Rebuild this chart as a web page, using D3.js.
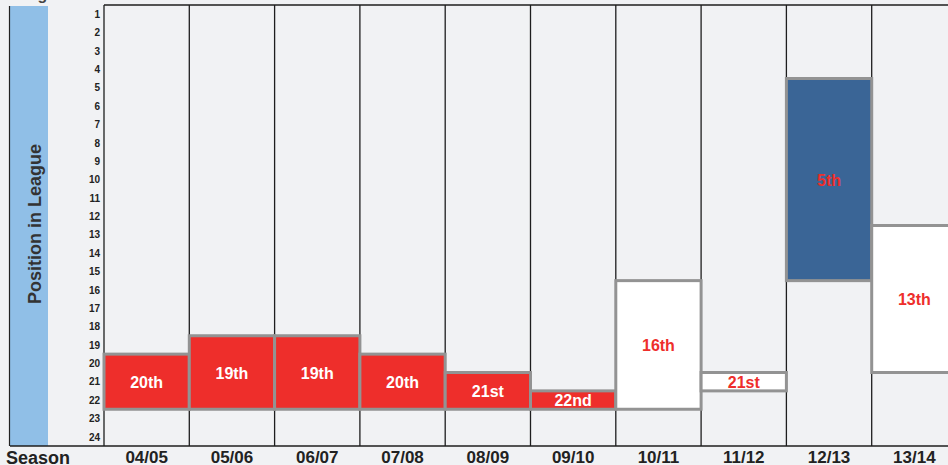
<!DOCTYPE html>
<html>
  <head>
    <meta charset="UTF-8" />
    <style>
      html, body { margin: 0; padding: 0; background: #f1f2f4; overflow: hidden; }
      svg { display: block; font-family: Arial, "Liberation Sans", sans-serif; }
    </style>
  </head>
  <body>
    <svg></svg>
    <script src="https://d3js.org/d3.v7.min.js"></script>
    <script>
      // data
      const seasons = ["04/05", "05/06", "06/07", "07/08", "08/09", "09/10", "10/11", "11/12", "12/13", "13/14"];
      const positions = [20, 19, 19, 20, 21, 22, 16, 21, 5, 13];
      const barTops = [19.5, 18.5, 18.5, 19.5, 20.5, 21.5, 15.5, 20.5, 4.5, 12.5];
      const barBottoms = [22.5, 22.5, 22.5, 22.5, 22.5, 22.5, 22.5, 21.5, 15.5, 20.5];
      const outcome = ["down", "down", "down", "down", "down", "down", "mid", "mid", "top", "mid"];
      const leaguePlaces = d3.range(1, 25);

      const width = 948, height = 465;
      const svg = d3.select("svg").attr("width", width).attr("height", height);

      const fillColor = d3.scaleOrdinal().domain(["down", "mid", "top"]).range(["#ee2e2b", "#ffffff", "#3a6596"]);
      const textColor = d3.scaleOrdinal().domain(["down", "mid", "top"]).range(["#ffffff", "#ee2e2b", "#ee2e2b"]);

      const x = d3.scaleBand().domain(seasons).range([104, 104 + 85.3 * seasons.length]).padding(0);
      const y = d3.scaleLinear().domain([0.5, 24.5]).range([5, 446]);

      const ordinal = n => {
        const s = ["th", "st", "nd", "rd"], v = n % 100;
        return n + (s[(v - 20) % 10] || s[v] || s[0]);
      };

      // title (cut off at the top in the original)
      svg.append("text").attr("x", 10).attr("y", 0)
        .attr("font-size", 16).attr("font-weight", "bold").attr("fill", "#444")
        .text("League Position Over The Last 10 Seasons");

      // left side panel
      svg.append("rect").attr("x", 10).attr("y", 6).attr("width", 38).attr("height", 440).attr("fill", "#90bfe7");
      svg.append("line").attr("x1", 9.5).attr("x2", 9.5).attr("y1", 6).attr("y2", 446)
        .attr("stroke", "#222").attr("stroke-width", 1.2);
      svg.append("text")
        .attr("transform", "translate(41,224) rotate(-90)")
        .attr("text-anchor", "middle").attr("font-size", 18).attr("font-weight", "bold").attr("fill", "#333")
        .text("Position in League");

      // grid columns
      const grid = svg.append("g");
      grid.selectAll("line.col")
        .data(seasons.concat(["end"]))
        .join("line")
        .attr("class", "col")
        .attr("x1", (d, i) => x.range()[0] + i * x.bandwidth())
        .attr("x2", (d, i) => x.range()[0] + i * x.bandwidth())
        .attr("y1", y(0.5)).attr("y2", y(24.5))
        .attr("stroke", "#1e1e1e").attr("stroke-width", 1.3);
      grid.append("line").attr("x1", x.range()[0]).attr("x2", width).attr("y1", y(0.5)).attr("y2", y(0.5))
        .attr("stroke", "#1e1e1e").attr("stroke-width", 1.3);
      grid.append("line").attr("x1", 10).attr("x2", width).attr("y1", y(24.5)).attr("y2", y(24.5))
        .attr("stroke", "#1e1e1e").attr("stroke-width", 1.3);

      // y axis labels
      const yAxis = d3.axisLeft(y).tickValues(leaguePlaces).tickSize(0).tickPadding(4);
      const yg = svg.append("g").attr("transform", "translate(104,0)").call(yAxis);
      yg.select(".domain").remove();
      yg.selectAll("text").attr("font-size", 10).attr("font-weight", "bold").attr("fill", "#222")
        .attr("font-family", "Arial, 'Liberation Sans', sans-serif");

      // bars
      const bars = svg.append("g");
      bars.selectAll("rect")
        .data(seasons)
        .join("rect")
        .attr("x", d => x(d))
        .attr("width", x.bandwidth())
        .attr("y", (d, i) => y(barTops[i]))
        .attr("height", (d, i) => y(barBottoms[i]) - y(barTops[i]))
        .attr("fill", (d, i) => fillColor(outcome[i]))
        .attr("stroke", "#939393").attr("stroke-width", 3);

      bars.selectAll("text")
        .data(seasons)
        .join("text")
        .attr("x", d => x(d) + x.bandwidth() / 2)
        .attr("y", (d, i) => (y(barTops[i]) + y(barBottoms[i])) / 2 + 6)
        .attr("text-anchor", "middle")
        .attr("font-size", 16).attr("font-weight", "bold")
        .attr("fill", (d, i) => textColor(outcome[i]))
        .text((d, i) => ordinal(positions[i]));

      // x axis labels
      const xAxis = d3.axisBottom(x).tickSize(0).tickPadding(0);
      const xg = svg.append("g").attr("transform", "translate(0,450)").call(xAxis);
      xg.select(".domain").remove();
      xg.selectAll("text").attr("font-size", 17).attr("font-weight", "bold").attr("fill", "#222")
        .attr("font-family", "Arial, 'Liberation Sans', sans-serif").attr("dy", "0.78em");

      svg.append("text").attr("x", 6).attr("y", 464)
        .attr("font-size", 18).attr("font-weight", "bold").attr("fill", "#222")
        .text("Season");
    </script>
  </body>
</html>
